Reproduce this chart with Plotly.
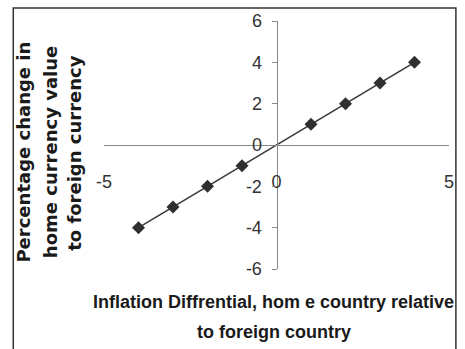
import plotly.graph_objects as go

# Data
inflation_diff = [-4, -3, -2, -1, 1, 2, 3, 4]
pct_change = [-4, -3, -2, -1, 1, 2, 3, 4]
x_ticks = [-5, 0, 5]
y_ticks = [-6, -4, -2, 0, 2, 4, 6]

ytitle_lines = ["Percentage change in", "home currency value", "to foreign currency"]
xtitle_lines = ["Inflation Diffrential, hom e country relative", "to foreign country"]

fig = go.Figure()
fig.add_trace(go.Scatter(
    x=inflation_diff, y=pct_change, mode="lines+markers",
    line=dict(color="#3a3a3a", width=1.6),
    marker=dict(symbol="diamond", size=10, color="#2f2f2f"),
    showlegend=False, hoverinfo="skip",
))

tickfont = dict(family="Liberation Sans Narrow, Arial Narrow, Liberation Sans, Arial", size=18, color="#333333")
titlefont = dict(family="Liberation Sans, Arial", size=18, color="#1a1a1a")

fig.update_layout(
    width=465, height=349,
    margin=dict(l=104, r=11, t=18, b=80),
    paper_bgcolor="white", plot_bgcolor="white",
    xaxis=dict(
        range=[-5, 5], tickvals=x_ticks, ticktext=[str(v) for v in x_ticks],
        anchor="free", position=0.5,
        showline=True, linecolor="#888888", linewidth=1,
        showgrid=False, zeroline=False, ticks="",
        tickfont=tickfont, ticklabelstandoff=20,
    ),
    yaxis=dict(
        range=[-6, 6], tickvals=y_ticks, ticktext=[str(v) for v in y_ticks],
        anchor="free", position=0.5,
        showline=True, linecolor="#888888", linewidth=1,
        showgrid=False, zeroline=False, ticks="outside", ticklen=5,
        tickcolor="#888888", tickfont=tickfont, ticklabelstandoff=6,
    ),
    shapes=[dict(type="rect", xref="paper", yref="paper",
                 x0=-0.263, x1=1.02, y0=-0.6, y1=1.052,
                 line=dict(color="#333333", width=1.5))],
)

ytitle_x = [22, 50, 74]
for txt, px in zip(ytitle_lines, ytitle_x):
    fig.add_annotation(
        text=f"<b>{txt}</b>", textangle=-90,
        xref="paper", yref="paper",
        x=(px - 104) / 350, y=(269 - 151) / 251,
        showarrow=False, xanchor="center", yanchor="middle",
        font=dict(family="DejaVu Sans, Arial", size=18, color="#1a1a1a"),
    )

xtitle_y = [302, 333]
for txt, py in zip(xtitle_lines, xtitle_y):
    fig.add_annotation(
        text=f"<b>{txt}</b>",
        xref="paper", yref="paper",
        x=(276 - 104) / 350, y=(269 - py) / 251,
        showarrow=False, xanchor="center", yanchor="middle",
        font=titlefont,
    )

fig.write_html(
    "out.html",
    config={"displayModeBar": False},
    post_script="document.body.style.margin='0';document.body.style.overflow='hidden';",
)
